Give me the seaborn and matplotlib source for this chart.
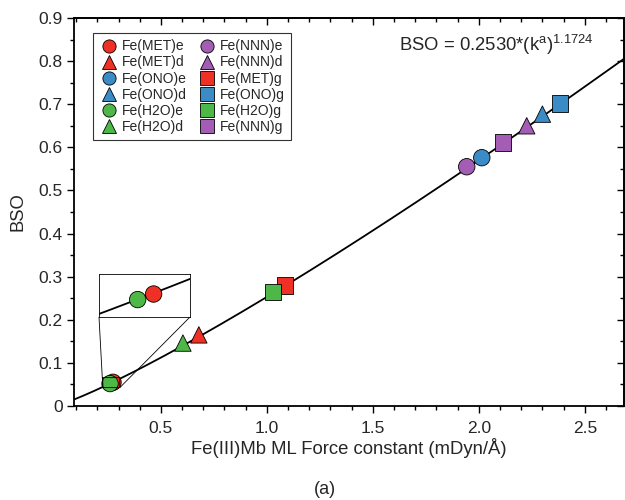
import numpy as np
import pandas as pd
import matplotlib
matplotlib.use("Agg")
import matplotlib.pyplot as plt
import seaborn as sns
from matplotlib.ticker import MultipleLocator

sns.set_theme(style="white")
plt.rcParams['font.family'] = ['Liberation Sans', 'DejaVu Sans']
plt.rcParams['mathtext.fontset'] = 'custom'
plt.rcParams['mathtext.rm'] = 'Liberation Sans'
plt.rcParams['mathtext.it'] = 'Liberation Sans'

# ---- data ----
labels = ["Fe(MET)e", "Fe(MET)d", "Fe(ONO)e", "Fe(ONO)d", "Fe(H2O)e", "Fe(H2O)d",
          "Fe(NNN)e", "Fe(NNN)d", "Fe(MET)g", "Fe(ONO)g", "Fe(H2O)g", "Fe(NNN)g"]
force_const = [0.274, 0.679, 2.014, 2.300, 0.260, 0.604,
               1.943, 2.226, 1.085, 2.382, 1.028, 2.113]
bso = [0.055, 0.165, 0.576, 0.677, 0.052, 0.146,
       0.555, 0.650, 0.280, 0.702, 0.264, 0.611]
colors = ["#EE3124", "#EE3124", "#3A8BC6", "#3A8BC6", "#4DB848", "#4DB848",
          "#A35DB5", "#A35DB5", "#EE3124", "#3A8BC6", "#4DB848", "#A35DB5"]
markers = ["o", "^", "o", "^", "o", "^", "o", "^", "s", "s", "s", "s"]
fit_A = 0.2530
fit_B = 1.1724
x_range = (0.09, 2.685)
inset_x = (0.226, 0.306)
inset_y = (0.0426, 0.0658)

df = pd.DataFrame({"k": force_const, "BSO": bso, "label": labels})
palette = dict(zip(labels, colors))
mk = dict(zip(labels, markers))
kk = np.linspace(x_range[0], x_range[1], 300)
fit_df = pd.DataFrame({"k": kk, "BSO": fit_A * kk ** fit_B})

fig = plt.figure(figsize=(6.25, 5.0), dpi=100)
ax = fig.add_axes([74/625, 1-406/500, 550/625, 388/500])

sns.lineplot(data=fit_df, x="k", y="BSO", color="black", lw=1.3, ax=ax, zorder=2)
sns.scatterplot(data=df, x="k", y="BSO", hue="label", style="label",
                hue_order=labels, style_order=labels, palette=palette, markers=mk,
                s=140, edgecolor="black", linewidth=0.6, ax=ax, zorder=3)

ax.set_xlim(*x_range)
ax.set_ylim(0, 0.9)
ax.xaxis.set_major_locator(MultipleLocator(0.5))
ax.xaxis.set_minor_locator(MultipleLocator(0.1))
ax.yaxis.set_major_locator(MultipleLocator(0.1))
ax.yaxis.set_minor_locator(MultipleLocator(0.05))
ax.set_yticks(np.arange(0, 0.91, 0.1))
ax.set_yticklabels(["0"] + [f"{v:.1f}" for v in np.arange(0.1, 0.91, 0.1)])
ax.tick_params(which="both", direction="out", labelsize=12.5, color="black", width=1.0)
ax.tick_params(axis="x", pad=6)
ax.tick_params(axis="y", pad=3)
ax.tick_params(which="major", length=5)
ax.tick_params(which="minor", length=3)
ax.tick_params(bottom=True, left=True, top=False, right=False)
ax.tick_params(which="minor", bottom=True, left=True)
for sp in ax.spines.values():
    sp.set_color("black")
    sp.set_linewidth(1.3)

secx = ax.secondary_xaxis("top")
secx.xaxis.set_major_locator(MultipleLocator(0.5))
secx.xaxis.set_minor_locator(MultipleLocator(0.1))
secx.tick_params(which="both", direction="in", labeltop=False, color="black", width=1.0)
secx.tick_params(which="major", length=5)
secx.tick_params(which="minor", length=3)
secx.spines["top"].set_linewidth(1.3)
secy = ax.secondary_yaxis("right")
secy.yaxis.set_major_locator(MultipleLocator(0.1))
secy.yaxis.set_minor_locator(MultipleLocator(0.05))
secy.tick_params(which="both", direction="in", labelright=False, color="black", width=1.0)
secy.tick_params(which="major", length=5)
secy.tick_params(which="minor", length=3)
secy.spines["right"].set_linewidth(1.3)

ax.set_xlabel("Fe(III)Mb ML Force constant (mDyn/Å)", fontsize=13.3, labelpad=1)
ax.set_ylabel("BSO", fontsize=13.3, labelpad=9)

ax.text(0.944, 0.930, r"BSO = 0.2530*(k$^{\mathrm{a}}$)$^{1.1724}$", transform=ax.transAxes,
        ha="right", va="center", fontsize=13.3)

handles, hlabels = ax.get_legend_handles_labels()
leg = ax.legend(handles, hlabels, ncol=2, loc="upper left", bbox_to_anchor=(0.0345, 0.961),
                borderaxespad=0,
                fontsize=10, frameon=True, fancybox=False, edgecolor="black",
                handletextpad=0.2, columnspacing=0.8, labelspacing=0.15,
                borderpad=0.45, handlelength=1.4, markerscale=1.0)
leg.get_frame().set_linewidth(0.8)
for h in leg.legend_handles:
    try:
        h.set_markersize(9.5)
        h.set_markeredgecolor("black")
        h.set_markeredgewidth(0.6)
    except AttributeError:
        pass

# inset
axins = fig.add_axes([99/625, 1-317/500, 91/625, 43/500])
sns.lineplot(data=fit_df, x="k", y="BSO", color="black", lw=1.3, ax=axins, zorder=2)
sub = df[df["label"].isin(["Fe(MET)e", "Fe(H2O)e"])]
sns.scatterplot(data=sub, x="k", y="BSO", hue="label", palette=palette, s=140,
                edgecolor="black", linewidth=0.6, ax=axins, legend=False, zorder=3)
axins.set_xlim(*inset_x)
axins.set_ylim(*inset_y)
axins.set_xticks([]); axins.set_yticks([])
axins.set_xlabel(""); axins.set_ylabel("")
for sp in axins.spines.values():
    sp.set_color("black")
    sp.set_linewidth(0.6)
ind = ax.indicate_inset_zoom(axins, edgecolor="black", linewidth=0.6, alpha=1)

fig.text(0.52, 0.022, "(a)", ha="center", va="center", fontsize=13)

fig.savefig("out.png", dpi=100)
